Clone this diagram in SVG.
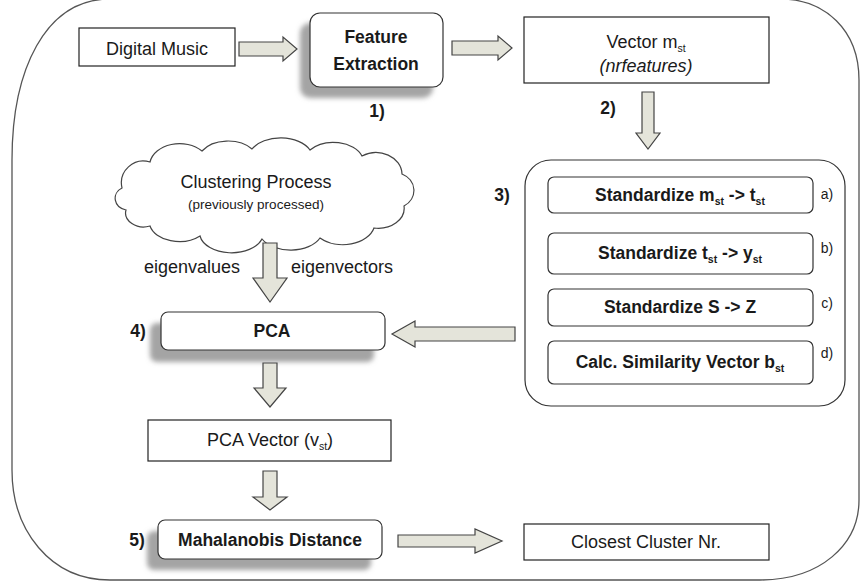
<svg xmlns="http://www.w3.org/2000/svg" width="861" height="585" viewBox="0 0 861 585">
<style>
text{font-family:"Liberation Sans",Arial,sans-serif;fill:#1a1a1a}
.t{font-size:18px}
.b{font-size:17.5px;font-weight:bold}
.s{font-size:13.5px}
.l{font-size:14px}
.sub{font-size:10.5px}
.box{fill:#fff;stroke:#222;stroke-width:1.2}
.rbox{fill:#fff;stroke:#333;stroke-width:1.2}
.shadow{fill:#a4a4a4;filter:url(#blur)}
.arrow{fill:#e4e4da;stroke:#444;stroke-width:1.2;stroke-linejoin:miter}
</style>
<defs>
<filter id="blur" x="-10%" y="-30%" width="120%" height="160%"><feGaussianBlur stdDeviation="2.5"/></filter>
</defs>
<rect width="861" height="585" fill="#fff"/>
<path d="M12,160 C12,70 45,-1 110,-1 L780,-1 C825,-1 859,30 859,80 L859,500 C859,545 820,580 760,580 L110,580 C50,580 12,530 12,470 Z" fill="none" stroke="#555" stroke-width="1.3"/>

<g id="digital-music">
<rect class="box" x="79" y="28" width="156" height="38"/>
<text class="t" x="157" y="55" text-anchor="middle">Digital Music</text>
</g>

<g id="feature-extraction">
<rect class="shadow" x="300" y="23" width="133" height="75" rx="10"/>
<rect class="rbox" x="310" y="13" width="133" height="74" rx="10"/>
<text class="b" x="376" y="43" text-anchor="middle">Feature</text>
<text class="b" x="376" y="70" text-anchor="middle">Extraction</text>
<text class="b" x="377" y="117" text-anchor="middle">1)</text>
</g>

<g id="vector-mst">
<rect class="box" x="524" y="17" width="245" height="66"/>
<text class="t" x="646" y="48" text-anchor="middle">Vector m<tspan class="sub" dy="4">st</tspan></text>
<text class="t" x="646" y="72" text-anchor="middle" font-style="italic">(nrfeatures)</text>
<text class="b" x="608" y="114" text-anchor="middle">2)</text>
</g>

<g id="standardize-group">
<rect class="rbox" x="525" y="160" width="320" height="246" rx="26"/>
<text class="b" x="502" y="201" text-anchor="middle">3)</text>
<rect class="rbox" x="548" y="177" width="265" height="36" rx="6"/>
<text class="b" x="680" y="201" text-anchor="middle">Standardize m<tspan class="sub" dy="4">st</tspan><tspan dy="-4"> -&gt; t</tspan><tspan class="sub" dy="4">st</tspan></text>
<text class="l" x="827" y="199" text-anchor="middle">a)</text>
<rect class="rbox" x="548" y="233" width="265" height="41" rx="6"/>
<text class="b" x="680" y="259" text-anchor="middle">Standardize t<tspan class="sub" dy="4">st</tspan><tspan dy="-4"> -&gt; y</tspan><tspan class="sub" dy="4">st</tspan></text>
<text class="l" x="827" y="253" text-anchor="middle">b)</text>
<rect class="rbox" x="548" y="289" width="265" height="37" rx="6"/>
<text class="b" x="680" y="313" text-anchor="middle">Standardize S -&gt; Z</text>
<text class="l" x="827" y="308" text-anchor="middle">c)</text>
<rect class="rbox" x="548" y="341" width="265" height="43" rx="6"/>
<text class="b" x="680" y="368" text-anchor="middle">Calc. Similarity Vector b<tspan class="sub" dy="4">st</tspan></text>
<text class="l" x="827" y="358" text-anchor="middle">d)</text>
</g>

<g id="clustering-process">
<path d="M122,188 A22,22 0 0 1 150,162 A30,22 0 0 1 202,151 A30,20 0 0 1 252,149 A32,20 0 0 1 310,150 A30,20 0 0 1 362,156 A26,22 0 0 1 402,174 A20,18 0 0 1 404,206 A26,20 0 0 1 374,228 A32,22 0 0 1 320,238 A32,20 0 0 1 262,239 A32,20 0 0 1 200,236 A30,20 0 0 1 150,226 A18,14 0 0 1 126,210 A14,12 0 0 1 122,188 Z" fill="#fff" stroke="#444" stroke-width="1.2"/>
<text class="t" x="256" y="188" text-anchor="middle">Clustering Process</text>
<text class="s" x="256" y="209" text-anchor="middle">(previously processed)</text>
<text class="t" x="192" y="273" text-anchor="middle">eigenvalues</text>
<text class="t" x="342" y="273" text-anchor="middle">eigenvectors</text>
</g>

<g id="pca">
<rect class="shadow" x="150" y="323" width="224" height="39" rx="7"/>
<rect class="rbox" x="161" y="312" width="224" height="38" rx="7"/>
<text class="b" x="272" y="337" text-anchor="middle">PCA</text>
<text class="b" x="138" y="337" text-anchor="middle">4)</text>
</g>

<g id="pca-vector">
<rect class="box" x="148" y="420" width="243" height="41"/>
<text class="t" x="270" y="446" text-anchor="middle">PCA Vector (v<tspan class="sub" dy="4">st</tspan><tspan dy="-4">)</tspan></text>
</g>

<g id="mahalanobis">
<rect class="shadow" x="147" y="531" width="224" height="39" rx="7"/>
<rect class="rbox" x="158" y="520" width="224" height="39" rx="7"/>
<text class="b" x="270" y="546" text-anchor="middle">Mahalanobis Distance</text>
<text class="b" x="137" y="546" text-anchor="middle">5)</text>
</g>

<g id="closest-cluster">
<rect class="box" x="524" y="524" width="245" height="36"/>
<text class="t" x="646" y="548" text-anchor="middle">Closest Cluster Nr.</text>
</g>

<g id="connectors">
<polygon class="arrow" points="239,42 283,42 283,37 297,49 283,61 283,56 239,56"/>
<polygon class="arrow" points="452,41 498,41 498,36 512,48 498,60 498,55 452,55"/>
<polygon class="arrow" points="642,92 654,92 654,133 660,133 648,149 636,133 642,133"/>
<polygon class="arrow" points="263,243 277,243 277,278 287,278 270,302 253,278 263,278"/>
<polygon class="arrow" points="515,327 415,327 415,321 392,334 415,347 415,341 515,341"/>
<polygon class="arrow" points="263,363 277,363 277,388 286,388 270,407 254,388 263,388"/>
<polygon class="arrow" points="263,471 277,471 277,497 287,497 270,510 253,497 263,497"/>
<polygon class="arrow" points="398,535 475,535 475,529 502,541 475,553 475,547 398,547"/>
</g>
</svg>
